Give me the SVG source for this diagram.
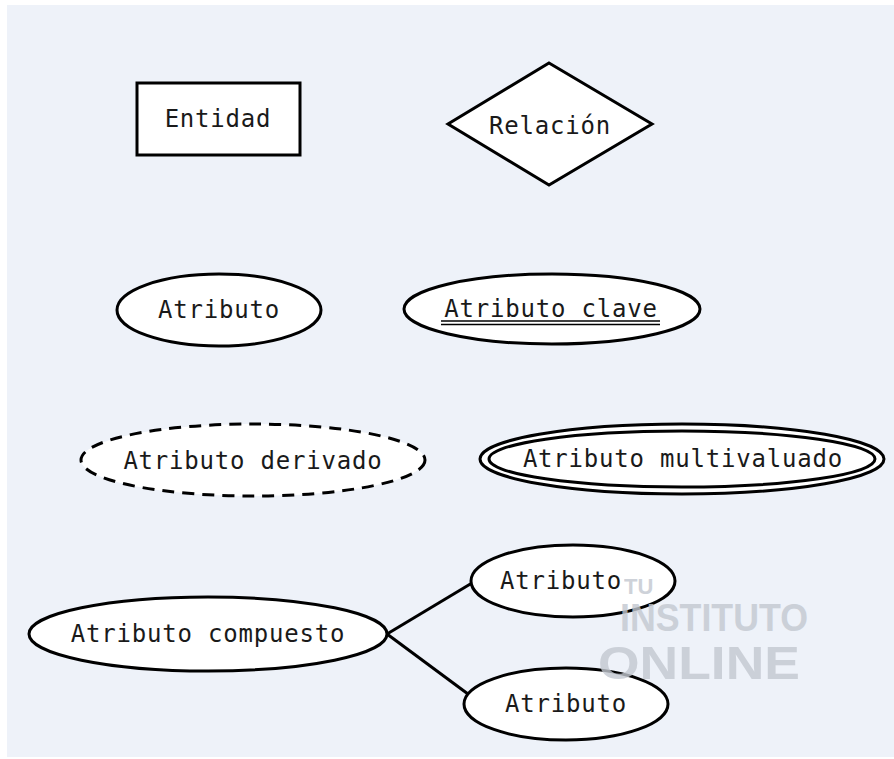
<svg xmlns="http://www.w3.org/2000/svg" width="894" height="759" viewBox="0 0 894 759">
<style>
.s{fill:#ffffff;stroke:#000000;stroke-width:3}
.t{font-family:"DejaVu Sans Mono","Liberation Mono",monospace;font-size:24px;letter-spacing:0.8px;fill:#1a1a1a;text-anchor:middle}
.c{stroke:#000000;stroke-width:3;fill:none}
.w{font-family:"Liberation Sans","DejaVu Sans",sans-serif;font-weight:bold;fill:#c3c8d0;opacity:0.8}
</style>
<rect x="0" y="0" width="894" height="759" fill="#ffffff"/>
<rect x="7" y="5" width="887" height="752" fill="#eef2f9"/>
<g id="connectors">
<line class="c" x1="387" y1="634" x2="472" y2="583"/>
<line class="c" x1="387" y1="634" x2="468" y2="694"/>
</g>
<g id="entidad">
<rect class="s" x="137" y="83" width="163" height="72"/>
<text class="t" x="218" y="127">Entidad</text>
</g>
<g id="relacion">
<polygon class="s" points="549,63 652,124 549,185 448,124"/>
<text class="t" x="550" y="134">Relación</text>
</g>
<g id="atributo">
<ellipse class="s" cx="219" cy="310" rx="102" ry="36"/>
<text class="t" x="219" y="318">Atributo</text>
</g>
<g id="atributo-clave">
<ellipse class="s" cx="552" cy="309" rx="148" ry="35"/>
<text class="t" x="551" y="317">Atributo clave</text>
<line x1="441" y1="321" x2="660" y2="321" stroke="#000" stroke-width="1.6"/>
<line x1="441" y1="324.5" x2="660" y2="324.5" stroke="#000" stroke-width="1.6"/>
</g>
<g id="atributo-derivado">
<ellipse class="s" cx="253" cy="460" rx="172" ry="36" stroke-dasharray="12 8"/>
<text class="t" x="253" y="469">Atributo derivado</text>
</g>
<g id="atributo-multivaluado">
<ellipse class="s" cx="682" cy="459" rx="202" ry="35"/>
<ellipse class="s" cx="682" cy="459" rx="193" ry="28"/>
<text class="t" x="683" y="467">Atributo multivaluado</text>
</g>
<g id="atributo-compuesto">
<ellipse class="s" cx="208" cy="634" rx="179" ry="37"/>
<text class="t" x="208" y="642">Atributo compuesto</text>
</g>
<g id="atributo-1">
<ellipse class="s" cx="573" cy="581" rx="102" ry="36"/>
<text class="t" x="561" y="589">Atributo</text>
</g>
<g id="atributo-2">
<ellipse class="s" cx="566" cy="704" rx="102" ry="36"/>
<text class="t" x="566" y="712">Atributo</text>
</g>
<g id="watermark">
<text class="w" x="624" y="594" font-size="22">TU</text>
<text class="w" x="620" y="631" font-size="38" textLength="188" lengthAdjust="spacingAndGlyphs">INSTITUTO</text>
<text class="w" x="598" y="679" font-size="46" textLength="202" lengthAdjust="spacingAndGlyphs">ONLINE</text>
</g>
</svg>
